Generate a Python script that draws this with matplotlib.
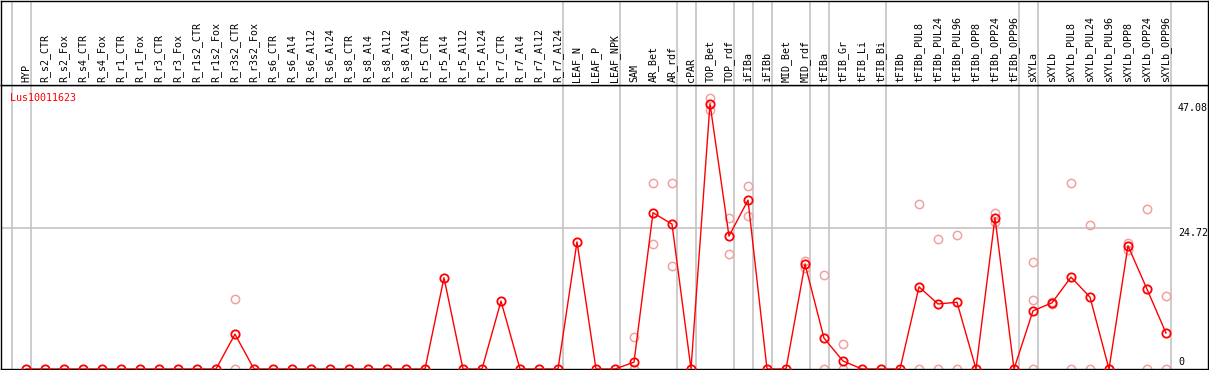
import matplotlib
matplotlib.use("Agg")
import matplotlib.pyplot as plt
from matplotlib.transforms import blended_transform_factory

# 数据
categories = [
    "HYP", "R_s2_CTR", "R_s2_Fox", "R_s4_CTR", "R_s4_Fox", "R_r1_CTR", "R_r1_Fox",
    "R_r3_CTR", "R_r3_Fox", "R_r1s2_CTR", "R_r1s2_Fox", "R_r3s2_CTR", "R_r3s2_Fox",
    "R_s6_CTR", "R_s6_Al4", "R_s6_Al12", "R_s6_Al24", "R_s8_CTR", "R_s8_Al4",
    "R_s8_Al12", "R_s8_Al24", "R_r5_CTR", "R_r5_Al4", "R_r5_Al12", "R_r5_Al24",
    "R_r7_CTR", "R_r7_Al4", "R_r7_Al12", "R_r7_Al24", "LEAF_N", "LEAF_P", "LEAF_NPK",
    "SAM", "AR_Bet", "AR_rdf", "cPAR", "TOP_Bet", "TOP_rdf", "iFIBa", "iFIBb",
    "MID_Bet", "MID_rdf", "tFIBa", "tFIB_Gr", "tFIB_Li", "tFIB_Bi", "tFIBb",
    "tFIBb_PUL8", "tFIBb_PUL24", "tFIBb_PUL96", "tFIBb_OPP8", "tFIBb_OPP24",
    "tFIBb_OPP96", "sXYLa", "sXYLb", "sXYLb_PUL8", "sXYLb_PUL24", "sXYLb_PUL96",
    "sXYLb_OPP8", "sXYLb_OPP24", "sXYLb_OPP96",
]
mean_values = [
    0, 0, 0, 0, 0, 0, 0, 0, 0, 0, 0, 6.1, 0,
    0, 0, 0, 0, 0, 0, 0, 0, 0, 16.0, 0, 0,
    11.9, 0, 0, 0, 22.3, 0, 0,
    1.2, 27.4, 25.4, 0, 46.5, 23.3, 29.6, 0,
    0, 18.4, 5.4, 1.4, 0, 0, 0,
    14.4, 11.4, 11.7, 0, 26.5, 0,
    10.2, 11.6, 16.1, 12.6, 0, 21.6, 14.0, 6.3,
]
# 重复样本
rep_cats = [
    "R_r3s2_CTR", "R_r3s2_CTR", "SAM", "SAM", "AR_Bet", "AR_Bet", "AR_rdf", "AR_rdf",
    "TOP_Bet", "TOP_Bet", "TOP_rdf", "TOP_rdf", "iFIBa", "iFIBa", "MID_rdf", "MID_rdf",
    "tFIBa", "tFIBa", "tFIB_Gr", "tFIB_Gr", "tFIBb_PUL8", "tFIBb_PUL8",
    "tFIBb_PUL24", "tFIBb_PUL24", "tFIBb_PUL96", "tFIBb_PUL96",
    "tFIBb_OPP24", "tFIBb_OPP24", "sXYLa", "sXYLa", "sXYLa", "sXYLb", "sXYLb",
    "sXYLb_PUL8", "sXYLb_PUL8", "sXYLb_PUL24", "sXYLb_PUL24", "sXYLb_OPP8", "sXYLb_OPP8",
    "sXYLb_OPP24", "sXYLb_OPP24", "sXYLb_OPP96", "sXYLb_OPP96",
]
rep_values = [
    12.3, 0, 5.6, 0, 32.6, 21.9, 32.6, 18.1,
    47.5, 45.4, 26.5, 20.2, 32.0, 26.9, 18.9, 17.7,
    16.5, 0, 4.4, 0, 28.9, 0,
    22.8, 0, 23.5, 0,
    27.3, 25.8, 18.8, 12.1, 0, 11.8, 11.4,
    32.6, 0, 25.2, 0, 22.1, 20.9,
    28.1, 0, 12.8, 0,
]
group_starts = ["HYP", "R_s2_CTR", "LEAF_N", "SAM", "cPAR", "TOP_Bet", "iFIBa", "iFIBb",
                "MID_Bet", "tFIBa", "tFIB_Gr", "tFIBb", "sXYLa", "sXYLb"]
y_ticks = [0, 24.72, 47.08]
gene = "Lus10011623"

# 作图
W, H = 1209, 370
fig = plt.figure(figsize=(W / 100, H / 100), dpi=100)
mono = "DejaVu Sans Mono"

x_left = (1 - 26) / 19
x_right = (1208 - 26) / 19
y_top = (369 - 85) / 5.704

ax = fig.add_axes([1 / W, 1 / H, 1207 / W, 284 / H])
head = fig.add_axes([1 / W, 285 / H, 1207 / W, 84.5 / H])
for a in (ax, head):
    a.set_xlim(x_left, x_right)
    a.set_xticks([])
    a.set_yticks([])
    for s in a.spines.values():
        s.set_color("black")
        s.set_linewidth(1.0)
ax.set_ylim(0, y_top)
head.set_ylim(0, 1)

idx = {c: i for i, c in enumerate(categories)}
for g in group_starts + [None]:
    xv = (idx[g] if g else len(categories)) - 0.76
    for a in (ax, head):
        a.axvline(xv, color="#c4c4c4", lw=1.2, zorder=0)

ax.axhline(y_ticks[1], xmax=(1170 - 1) / 1207, color="#c4c4c4", lw=1.2, zorder=0)

xs = list(range(len(categories)))
ax.plot([idx[c] for c in rep_cats], rep_values, "o", ms=6, mfc="none",
        mec="#f2a0a0", mew=1.1, zorder=2)
ax.plot(xs, mean_values, "-", color="red", lw=1.0, zorder=3)
ax.plot(xs, mean_values, "o", ms=6, mfc="none", mec="red", mew=1.3, zorder=4)

tr = blended_transform_factory(head.transData, head.transAxes)
for i, c in enumerate(categories):
    head.text(i, 2.5 / 84.5, c, rotation=90, ha="center", va="bottom",
              family=mono, fontsize=7.2, transform=tr)

ax.text((10 - 1) / 1207, (369 - 98) / 284, gene, color="red", family=mono,
        fontsize=7.2, ha="left", va="center", transform=ax.transAxes)

offsets = [7, -5, -7.5]
for v, off in zip(y_ticks, offsets):
    lab = "%g" % v
    ax.annotate(lab, xy=((1178 - 1) / 1207, v), xycoords=("axes fraction", "data"),
                xytext=(0, off), textcoords="offset pixels", ha="left", va="center",
                family=mono, fontsize=7.2, annotation_clip=False)

fig.savefig("out.png", dpi=100)
